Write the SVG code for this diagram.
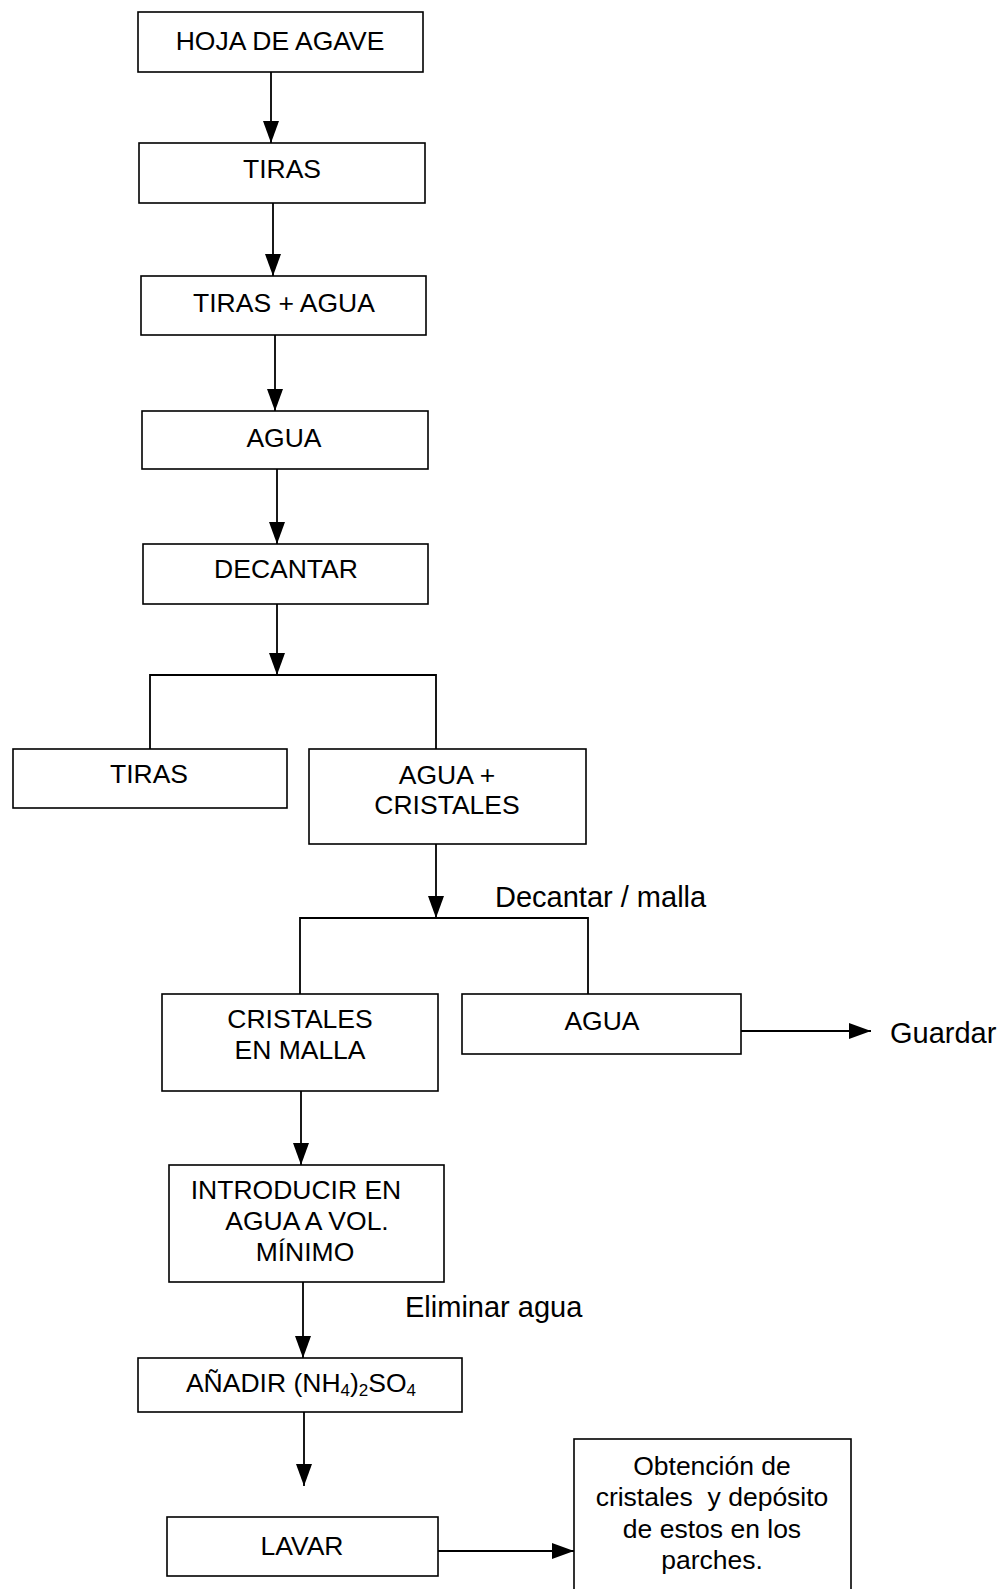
<svg xmlns="http://www.w3.org/2000/svg" width="1000" height="1589" viewBox="0 0 1000 1589">
<style>
  .box { fill: #ffffff; stroke: #000000; stroke-width: 1.6; }
  .t { font-family: "Liberation Sans", Arial, sans-serif; font-size: 26.5px; fill: #000; text-anchor: middle; }
  .lbl { font-family: "Liberation Sans", Arial, sans-serif; font-size: 29px; fill: #000; }
  .c { fill: none; stroke: #000; stroke-width: 1.8; }
  .ca { fill: none; stroke: #000; stroke-width: 1.8; marker-end: url(#ah); }
</style>
<defs>
  <marker id="ah" markerUnits="userSpaceOnUse" viewBox="0 0 22 16" markerWidth="22" markerHeight="16" refX="22" refY="8" orient="auto">
    <path d="M0,0 L22,8 L0,16 z" fill="#000"/>
  </marker>
</defs>
<rect width="1000" height="1589" fill="#ffffff"/>

<g id="connectors">
  <line class="ca" x1="271" y1="72" x2="271" y2="143"/>
  <line class="ca" x1="273" y1="203" x2="273" y2="276"/>
  <line class="ca" x1="275" y1="335" x2="275" y2="411"/>
  <line class="ca" x1="277" y1="469" x2="277" y2="544"/>
  <line class="ca" x1="277" y1="604" x2="277" y2="675"/>
  <polyline class="c" points="150,749 150,675 436,675 436,749"/>
  <line class="ca" x1="436" y1="844" x2="436" y2="918"/>
  <polyline class="c" points="300,994 300,918 588,918 588,994"/>
  <line class="ca" x1="741" y1="1031" x2="871" y2="1031"/>
  <line class="ca" x1="301" y1="1091" x2="301" y2="1165"/>
  <line class="ca" x1="303" y1="1282" x2="303" y2="1358"/>
  <line class="ca" x1="304" y1="1412" x2="304" y2="1486"/>
  <line class="ca" x1="438" y1="1551" x2="574" y2="1551"/>
</g>

<g id="n-hoja">
  <rect class="box" x="138" y="12" width="285" height="60"/>
  <text class="t" x="280" y="50">HOJA DE AGAVE</text>
</g>
<g id="n-tiras1">
  <rect class="box" x="139" y="143" width="286" height="60"/>
  <text class="t" x="282" y="178">TIRAS</text>
</g>
<g id="n-tiras-agua">
  <rect class="box" x="141" y="276" width="285" height="59"/>
  <text class="t" x="284" y="312">TIRAS + AGUA</text>
</g>
<g id="n-agua1">
  <rect class="box" x="142" y="411" width="286" height="58"/>
  <text class="t" x="284" y="447">AGUA</text>
</g>
<g id="n-decantar">
  <rect class="box" x="143" y="544" width="285" height="60"/>
  <text class="t" x="286" y="578">DECANTAR</text>
</g>
<g id="n-tiras2">
  <rect class="box" x="13" y="749" width="274" height="59"/>
  <text class="t" x="149" y="783">TIRAS</text>
</g>
<g id="n-agua-cristales">
  <rect class="box" x="309" y="749" width="277" height="95"/>
  <text class="t" x="447" y="784">AGUA +</text>
  <text class="t" x="447" y="814">CRISTALES</text>
</g>
<g id="l-decantar-malla">
  <text class="lbl" x="495" y="907">Decantar / malla</text>
</g>
<g id="n-cristales-malla">
  <rect class="box" x="162" y="994" width="276" height="97"/>
  <text class="t" x="300" y="1028">CRISTALES</text>
  <text class="t" x="300" y="1059">EN MALLA</text>
</g>
<g id="n-agua2">
  <rect class="box" x="462" y="994" width="279" height="60"/>
  <text class="t" x="602" y="1030">AGUA</text>
</g>
<g id="l-guardar">
  <text class="lbl" x="890" y="1043">Guardar</text>
</g>
<g id="n-introducir">
  <rect class="box" x="169" y="1165" width="275" height="117"/>
  <text class="t" x="296" y="1199">INTRODUCIR EN</text>
  <text class="t" x="307" y="1230">AGUA A VOL.</text>
  <text class="t" x="305" y="1261">MÍNIMO</text>
</g>
<g id="l-eliminar">
  <text class="lbl" x="405" y="1317">Eliminar agua</text>
</g>
<g id="n-anadir">
  <rect class="box" x="138" y="1358" width="324" height="54"/>
  <text class="t" x="301" y="1392">AÑADIR (NH<tspan font-size="17" dy="4">4</tspan><tspan dy="-4">)</tspan><tspan font-size="17" dy="4">2</tspan><tspan dy="-4">SO</tspan><tspan font-size="17" dy="4">4</tspan></text>
</g>
<g id="n-lavar">
  <rect class="box" x="167" y="1517" width="271" height="59"/>
  <text class="t" x="302" y="1555">LAVAR</text>
</g>
<g id="n-obtencion">
  <rect class="box" x="574" y="1439" width="277" height="160"/>
  <text class="t" x="712" y="1475">Obtención de</text>
  <text class="t" x="712" y="1506" style="white-space:pre">cristales  y depósito</text>
  <text class="t" x="712" y="1538">de estos en los</text>
  <text class="t" x="712" y="1569">parches.</text>
</g>
</svg>
